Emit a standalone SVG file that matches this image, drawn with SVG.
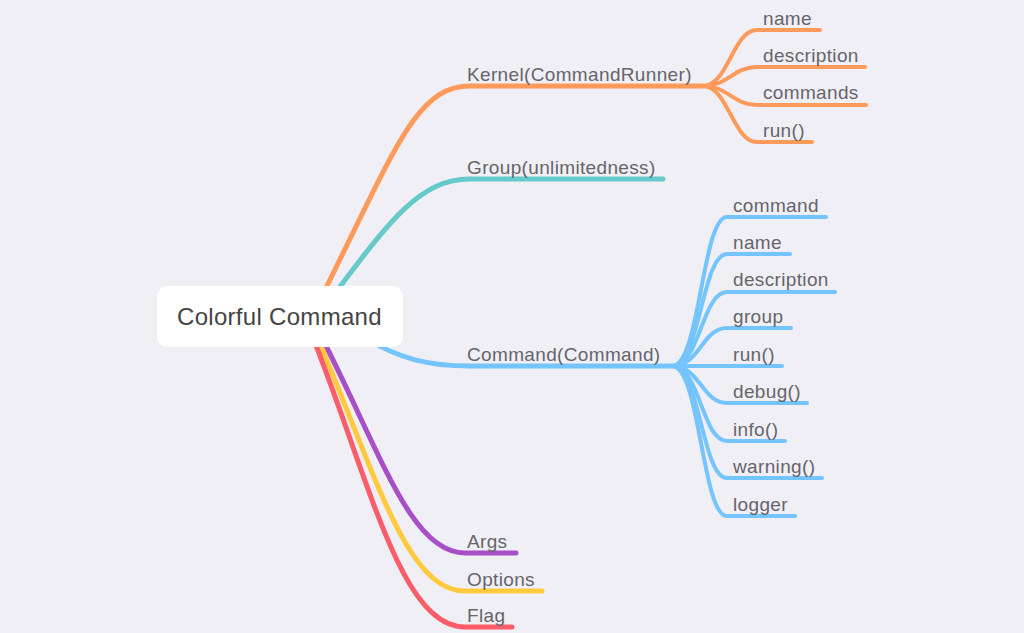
<svg xmlns="http://www.w3.org/2000/svg" width="1024" height="633" viewBox="0 0 1024 633">
<style>
.bg{fill:#f0eff5}
.c{fill:none;stroke-linecap:round;stroke-linejoin:round}
.m{stroke-width:5}
.s{stroke-width:4}
.o{stroke:#ff9a5a}
.t{stroke:#66c9ca}
.b{stroke:#74c4ff}
.p{stroke:#a64fc6}
.y{stroke:#ffca3d}
.r{stroke:#fa5c69}
.lbl{font-family:"Liberation Sans",Arial,Helvetica,sans-serif;font-size:19px;letter-spacing:0.35px;fill:#66656b}
.root{font-family:"Liberation Sans",Arial,Helvetica,sans-serif;font-size:24px;letter-spacing:0.3px;fill:#444444}
</style>
<rect class="bg" x="0" y="0" width="1024" height="633"/>
<g id="connectors">
  <path class="c m o" d="M315 310 C395 150 415 86 470 86 L703 86"/>
  <path class="c m t" d="M330 300 C390 220 420 179 470 179 L663 179"/>
  <path class="c m b" d="M360 335 C400 360 430 366 470 366 L672 366"/>
  <path class="c m p" d="M318 330 C380 450 410 553 465 553 L516 553"/>
  <path class="c m y" d="M314 330 C375 470 405 591 465 591 L542 591"/>
  <path class="c m r" d="M310 330 C370 480 400 627 465 627 L512 627"/>
  <path class="c s o" d="M703 86 C728 86 733 30 757 30 L820 30"/>
  <path class="c s o" d="M703 86 C728 86 733 67 757 67 L865 67"/>
  <path class="c s o" d="M703 86 C728 86 733 105 757 105 L866 105"/>
  <path class="c s o" d="M703 86 C728 86 733 142 757 142 L812 142"/>
  <path class="c s b" d="M672 366 C700 366 702 217 727 217 L826 217"/>
  <path class="c s b" d="M672 366 C700 366 702 254 727 254 L790 254"/>
  <path class="c s b" d="M672 366 C700 366 702 292 727 292 L835 292"/>
  <path class="c s b" d="M672 366 C700 366 702 328 727 328 L791 328"/>
  <path class="c s b" d="M672 366 L782 366"/>
  <path class="c s b" d="M672 366 C700 366 702 403 727 403 L807 403"/>
  <path class="c s b" d="M672 366 C700 366 702 441 727 441 L785 441"/>
  <path class="c s b" d="M672 366 C700 366 702 478 727 478 L822 478"/>
  <path class="c s b" d="M672 366 C700 366 702 516 727 516 L795 516"/>
</g>
<g id="root">
  <rect x="157" y="286" width="246" height="61" rx="10" fill="#ffffff"/>
  <text class="root" x="177" y="325">Colorful Command</text>
</g>
<g id="kernel"><text class="lbl" x="467" y="80.5">Kernel(CommandRunner)</text></g>
<g id="kernel-name"><text class="lbl" x="763" y="24.5">name</text></g>
<g id="kernel-description"><text class="lbl" x="763" y="61.5">description</text></g>
<g id="kernel-commands"><text class="lbl" x="763" y="99">commands</text></g>
<g id="kernel-run"><text class="lbl" x="763" y="136.5">run()</text></g>
<g id="group"><text class="lbl" x="467" y="173.5">Group(unlimitedness)</text></g>
<g id="command"><text class="lbl" x="467" y="360.5">Command(Command)</text></g>
<g id="command-command"><text class="lbl" x="733" y="211.5">command</text></g>
<g id="command-name"><text class="lbl" x="733" y="248.5">name</text></g>
<g id="command-description"><text class="lbl" x="733" y="286">description</text></g>
<g id="command-group"><text class="lbl" x="733" y="323">group</text></g>
<g id="command-run"><text class="lbl" x="733" y="360.5">run()</text></g>
<g id="command-debug"><text class="lbl" x="733" y="397.5">debug()</text></g>
<g id="command-info"><text class="lbl" x="733" y="435.5">info()</text></g>
<g id="command-warning"><text class="lbl" x="733" y="472.5">warning()</text></g>
<g id="command-logger"><text class="lbl" x="733" y="510.5">logger</text></g>
<g id="args"><text class="lbl" x="467" y="547.5">Args</text></g>
<g id="options"><text class="lbl" x="467" y="585.5">Options</text></g>
<g id="flag"><text class="lbl" x="467" y="621.5">Flag</text></g>
</svg>
